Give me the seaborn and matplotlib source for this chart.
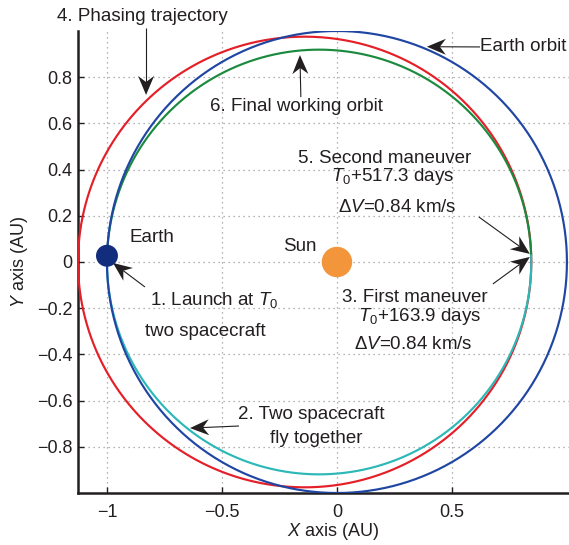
import numpy as np
import pandas as pd
import matplotlib
matplotlib.use("Agg")
import matplotlib.pyplot as plt
from matplotlib.patches import Polygon
from matplotlib.transforms import IdentityTransform
import seaborn as sns

# Heliocentric orbits (AU): periapsis on +x, Sun at the focus
orbit_names = ["Phasing trajectory", "Final working orbit",
               "Two spacecraft fly together", "Earth orbit"]
r_peri = [0.845, 0.845, 0.845, 1.0]
r_apo = [1.126, 1.0, 1.0, 1.0]
arc_start_deg = [0, 2, 180, 0]
arc_end_deg = [360, 180, 362, 360]
orbit_colors = ["#e41f28", "#1b8a3e", "#2db8b8", "#1f46a3"]

# Bodies
earth_xy = (-1.0, 0.027)
sun_xy = (0.0, 0.0)

# Axes ticks
x_ticks = [-1, -0.5, 0, 0.5]
x_tick_labels = ["\u22121", "\u22120.5", "0", "0.5"]
y_ticks = [-0.8, -0.6, -0.4, -0.2, 0, 0.2, 0.4, 0.6, 0.8]
y_tick_labels = ["\u22120.8", "\u22120.6", "\u22120.4", "\u22120.2", "0",
                 "0.2", "0.4", "0.6", "0.8"]

sns.set_style("ticks")
plt.rcParams["font.family"] = ["Liberation Sans", "DejaVu Sans"]
plt.rcParams["mathtext.fontset"] = "custom"
plt.rcParams["mathtext.rm"] = "Liberation Sans"
plt.rcParams["mathtext.it"] = "Liberation Sans:italic"
plt.rcParams["mathtext.bf"] = "Liberation Sans:bold"

INK = "#231f20"

fig = plt.figure(figsize=(5.69, 5.45), dpi=100)
ax = fig.add_axes([78 / 569, 52 / 545, 491 / 569, 462 / 545])


def orbit_frame(name, rp, ra, t0, t1):
    a = 0.5 * (rp + ra)
    e = (ra - rp) / (ra + rp)
    th = np.radians(np.linspace(t0, t1, 721))
    r = a * (1 - e ** 2) / (1 + e * np.cos(th))
    return pd.DataFrame({"x": r * np.cos(th), "y": r * np.sin(th), "orbit": name})


for name, rp, ra, t0, t1, c in zip(orbit_names, r_peri, r_apo,
                                   arc_start_deg, arc_end_deg, orbit_colors):
    df = orbit_frame(name, rp, ra, t0, t1)
    sns.lineplot(data=df, x="x", y="y", sort=False, estimator=None,
                 color=c, lw=1.55, ax=ax, zorder=3)

sns.scatterplot(x=[earth_xy[0]], y=[earth_xy[1]], s=250, color="#132d7d",
                edgecolor="none", ax=ax, zorder=5)
sns.scatterplot(x=[sun_xy[0]], y=[sun_xy[1]], s=480, color="#f2953b",
                edgecolor="none", ax=ax, zorder=5)

ax.set_xlim(-1.126, 1.009)
ax.set_ylim(-1.0, 1.0)
ax.set_xticks(x_ticks)
ax.set_xticklabels(x_tick_labels)
ax.set_yticks(y_ticks)
ax.set_yticklabels(y_tick_labels)
ax.tick_params(direction="in", length=4, width=1, colors=INK,
               labelsize=13, labelcolor=INK)
ax.tick_params(axis="x", pad=8)
ax.tick_params(axis="y", pad=4)
ax.grid(True, linestyle=(0, (1, 3)), color="#9a9a9a", lw=0.9)
for side in ["top", "right"]:
    ax.spines[side].set_visible(False)
for side in ["left", "bottom"]:
    ax.spines[side].set_linewidth(1.8)
    ax.spines[side].set_color(INK)

ax.set_xlabel("$X$ axis (AU)", fontsize=13, color=INK)
ax.set_ylabel("$Y$ axis (AU)", fontsize=13, color=INK)
ax.xaxis.set_label_coords(0.519, -0.084)
ax.xaxis.label.set_verticalalignment("center")
ax.yaxis.set_label_coords(-0.120, 0.5)
ax.yaxis.label.set_verticalalignment("center")

FS = 13.5
texts = [
    ("4. Phasing trajectory", -0.848, 1.061, "center"),
    ("Earth orbit", 0.622, 0.931, "left"),
    ("6. Final working orbit", -0.178, 0.675, "center"),
    ("5. Second maneuver", 0.209, 0.450, "center"),
    ("$T_0$+517.3 days", 0.243, 0.372, "center"),
    ("$\\Delta V$=0.84 km/s", 0.261, 0.238, "center"),
    ("Earth", -0.900, 0.108, "left"),
    ("Sun", -0.161, 0.069, "center"),
    ("1. Launch at $T_0$", -0.813, -0.165, "left"),
    ("two spacecraft", -0.835, -0.303, "left"),
    ("3. First maneuver", 0.339, -0.152, "center"),
    ("$T_0$+163.9 days", 0.361, -0.234, "center"),
    ("$\\Delta V$=0.84 km/s", 0.330, -0.359, "center"),
    ("2. Two spacecraft", -0.113, -0.662, "center"),
    ("fly together", -0.091, -0.762, "center"),
]
for s, x, y, ha in texts:
    ax.text(x, y, s, fontsize=FS, color=INK, ha=ha, va="center",
            clip_on=False, zorder=6)

# Pointer arrows: thin shaft with a notched (stealth) head
arrows = [
    ((-0.830, 1.013), (-0.830, 0.723)),
    ((0.622, 0.931), (0.391, 0.932)),
    ((-0.157, 0.714), (-0.161, 0.896)),
    ((0.617, 0.195), (0.839, 0.035)),
    ((0.678, -0.095), (0.839, 0.022)),
    ((-0.835, -0.108), (-0.974, -0.004)),
    ((-0.426, -0.710), (-0.639, -0.719)),
]
HEAD_LEN, HEAD_HALF_W, NOTCH = 19.0, 8.0, 6.0
for tail, tip in arrows:
    p_tail = ax.transData.transform(tail)
    p_tip = ax.transData.transform(tip)
    d = p_tip - p_tail
    d = d / np.hypot(*d)
    n = np.array([-d[1], d[0]])
    back = p_tip - HEAD_LEN * d
    notch = p_tip - (HEAD_LEN - NOTCH) * d
    head = np.array([p_tip, back + HEAD_HALF_W * n, notch,
                     back - HEAD_HALF_W * n])
    shaft_end = ax.transData.inverted().transform(notch)
    ax.plot([tail[0], shaft_end[0]], [tail[1], shaft_end[1]], color=INK,
            lw=0.8, clip_on=False, zorder=6, solid_capstyle="butt")
    ax.add_patch(Polygon(head, closed=True, facecolor=INK, edgecolor="none",
                         transform=IdentityTransform(), clip_on=False,
                         zorder=6))

fig.savefig("out.png", dpi=100)
